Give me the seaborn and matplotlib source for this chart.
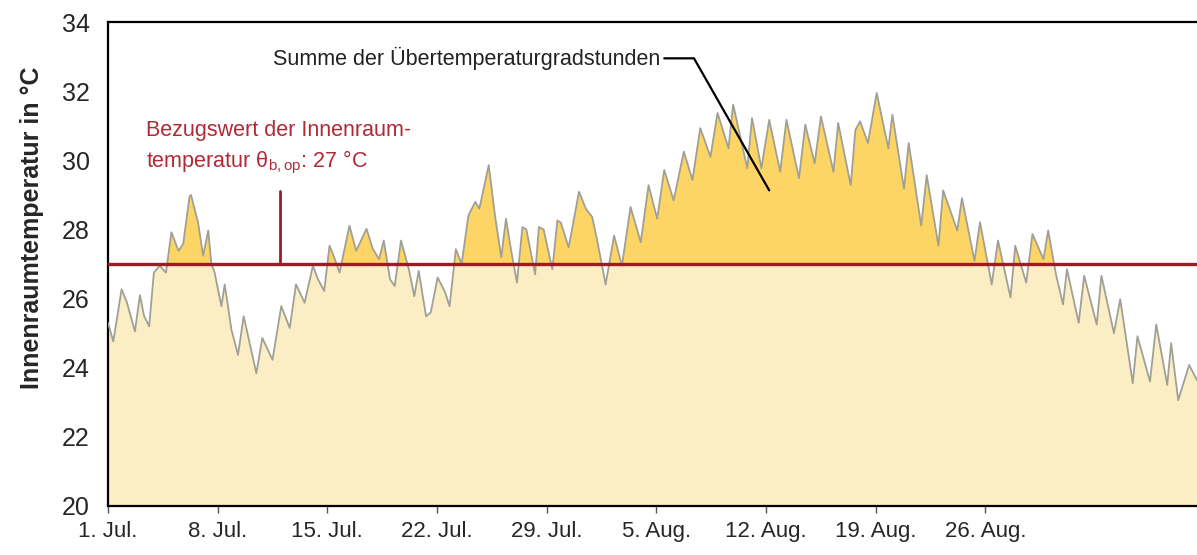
import numpy as np
import pandas as pd
import matplotlib
matplotlib.use("Agg")
import matplotlib.pyplot as plt
import seaborn as sns

# Zeit in Tagen ab 1. Juli, Innenraumtemperatur in °C
days = [0.0, 0.34, 0.87, 1.2, 1.72, 2.04, 2.3, 2.63, 2.93, 3.3, 3.7, 4.05, 4.5, 4.8,
        5.2, 5.3, 5.75, 6.07, 6.4, 6.6, 6.8, 7.24, 7.45, 7.88, 8.3, 8.66, 9.04, 9.47,
        9.85, 10.5, 11.06, 11.6, 12.0, 12.55, 13.08, 13.4, 13.8, 14.14, 14.4, 14.78,
        15.41, 15.84, 16.5, 16.9, 17.3, 17.6, 18.0, 18.3, 18.7, 19.2, 19.55, 19.83,
        20.3, 20.6, 21.04, 21.5, 21.8, 22.2, 22.57, 23.0, 23.44, 23.7, 24.3, 24.7,
        25.1, 25.4, 25.75, 26.1, 26.45, 26.7, 27.26, 27.5, 27.8, 28.36, 28.68, 28.9,
        29.4, 30.06, 30.5, 30.9, 31.2, 31.76, 32.3, 32.8, 33.35, 34.0, 34.5, 35.05,
        35.5, 36.1, 36.75, 37.3, 37.8, 38.45, 38.9, 39.6, 39.9, 40.8, 41.1, 41.7,
        42.2, 42.9, 43.3, 44.1, 44.5, 45.1, 45.5, 46.3, 46.6, 47.4, 47.7, 48.0, 48.5,
        49.06, 49.8, 50.06, 50.8, 51.1, 51.9, 52.25, 53.0, 53.3, 54.2, 54.5, 55.3,
        55.65, 56.4, 56.8, 57.6, 57.9, 58.6, 59.0, 59.7, 60.0, 60.5, 60.95, 61.2,
        61.95, 62.3, 63.1, 63.4, 64.2, 64.6, 65.4, 65.7, 66.5, 66.9, 67.6, 67.85,
        68.3, 69.0, 69.5]
temps = [25.3, 24.76, 26.27, 25.9, 25.05, 26.1, 25.5, 25.2, 26.75, 26.95, 26.75, 27.92,
         27.38, 27.58, 28.94, 29.0, 28.2, 27.24, 27.97, 27.0, 26.76, 25.78, 26.41, 25.1,
         24.37, 25.49, 24.71, 23.84, 24.86, 24.23, 25.78, 25.15, 26.41, 25.88, 26.95,
         26.56, 26.22, 27.53, 27.24, 26.75, 28.11, 27.38, 28.02, 27.44, 27.14, 27.68,
         26.56, 26.36, 27.68, 26.85, 26.07, 26.8, 25.49, 25.6, 26.61, 26.2, 25.78, 27.43,
         27.0, 28.4, 28.8, 28.6, 29.86, 28.4, 27.19, 28.31, 27.34, 26.46, 28.07, 28.0,
         26.7, 28.07, 28.0, 26.85, 28.26, 28.2, 27.48, 29.09, 28.6, 28.36, 27.73, 26.41,
         27.82, 26.95, 28.65, 27.63, 29.28, 28.31, 29.72, 28.84, 30.25, 29.43, 30.93,
         30.1, 31.37, 30.35, 31.61, 29.77, 31.22, 29.77, 31.17, 29.67, 31.17, 29.48,
         31.03, 29.91, 31.27, 29.67, 31.08, 29.28, 30.88, 31.13, 30.5, 31.95, 30.35,
         31.32, 29.18, 30.5, 28.11, 29.57, 27.53, 29.13, 27.97, 28.9, 27.09, 28.21,
         26.41, 27.68, 26.03, 27.53, 26.46, 27.87, 27.14, 27.97, 26.7, 25.83, 26.85,
         25.3, 26.66, 25.25, 26.66, 25.0, 25.98, 23.55, 24.91, 23.6, 25.25, 23.5, 24.71,
         23.06, 24.08, 23.64]

ref_temp = 27
tick_days = [0, 7, 14, 21, 28, 35, 42, 49, 56]
tick_labels = ["1. Jul.", "8. Jul.", "15. Jul.", "22. Jul.", "29. Jul.",
               "5. Aug.", "12. Aug.", "19. Aug.", "26. Aug."]
y_ticks = [20, 22, 24, 26, 28, 30, 32, 34]

# Hinweise im Diagramm
marker_day, marker_top = 10.96, 29.1
note_text = "Summe der Übertemperaturgradstunden"
note_days = [35.5, 37.4, 42.2]
note_temps = [32.95, 32.95, 29.13]

sns.set_theme(style="white")
plt.rcParams['font.family'] = ['Liberation Sans', 'DejaVu Sans']
plt.rcParams['mathtext.fontset'] = 'custom'
plt.rcParams['mathtext.rm'] = 'Liberation Sans'

df = pd.DataFrame({'Tag': days, 'Temperatur': temps})
t = np.array(temps)

fig = plt.figure(figsize=(11.97, 5.55), dpi=100)
ax = fig.add_axes([0.0902, 0.0883, 0.9098, 0.872])

ax.fill_between(df['Tag'], 20, df['Temperatur'], color='#FCEEC4', lw=0, zorder=1)
ax.fill_between(df['Tag'], ref_temp, df['Temperatur'], where=t > ref_temp,
                interpolate=True, color='#FDD565', lw=0, zorder=2)
sns.lineplot(data=df, x='Tag', y='Temperatur', ax=ax, color='#a0a096', lw=1.3, zorder=3)
ax.axhline(ref_temp, color='#9e1b26', lw=2.4, zorder=4)
ax.plot([marker_day, marker_day], [ref_temp, marker_top], color='#9e1b26', lw=2.0, zorder=4)

ax.plot(note_days, note_temps, color='black', lw=1.6, zorder=5)
ax.text(note_days[0] - 0.25, note_temps[0], note_text, ha='right', va='center',
        fontsize=15.5, color='#222222')

red = '#b02a36'
ax.text(2.45, 30.87, "Bezugswert der Innenraum-", color=red, fontsize=15.5, va='center')
ax.text(2.45, 29.95, "temperatur θ$_{\\mathrm{b,op}}$: 27 °C", color=red, fontsize=15.5, va='center')

ax.set_xlim(0, 69.5)
ax.set_ylim(20, 34)
ax.set_xticks(tick_days)
ax.set_xticklabels(tick_labels)
ax.set_yticks(y_ticks)
ax.tick_params(axis='x', length=5, width=1, color='#555555', labelsize=16, pad=6,
               bottom=True, direction='out')
ax.tick_params(axis='y', length=0, labelsize=18, pad=13)
ax.set_xlabel("")
ax.set_ylabel("Innenraumtemperatur in °C", fontsize=18, fontweight='bold', labelpad=10)
ax.yaxis.set_label_coords(-0.059, 0.575)

for side in ['left', 'top', 'bottom']:
    ax.spines[side].set_color('black')
    ax.spines[side].set_linewidth(1.6)
ax.spines['right'].set_visible(False)

fig.savefig('out.png', dpi=100)
